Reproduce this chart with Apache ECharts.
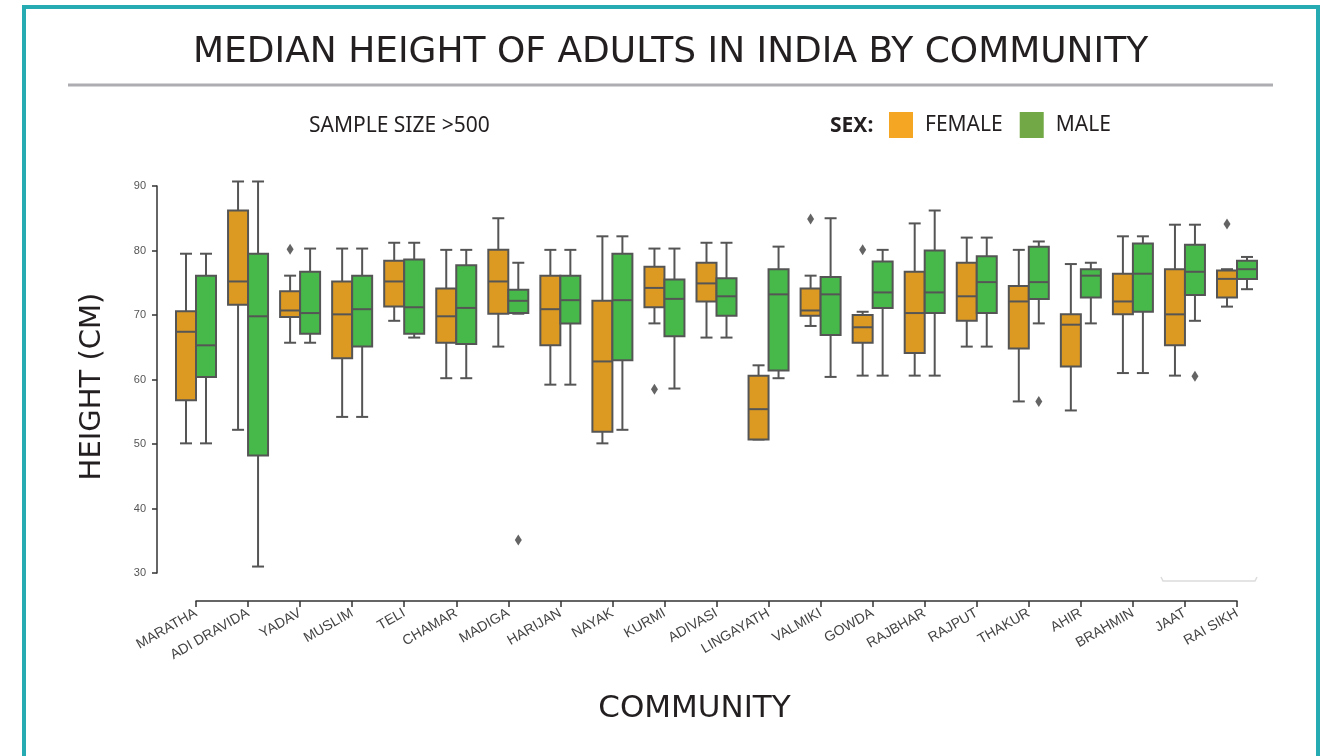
<!DOCTYPE html>
<html>
<head>
<meta charset="utf-8">
<title>Median height of adults in India by community</title>
<script src="https://cdn.jsdelivr.net/npm/echarts@6/dist/echarts.min.js"></script>
<style>
  html, body { margin: 0; padding: 0; background: #fff; }
  #chart { width: 1326px; height: 756px; }
</style>
</head>
<body>
<div id="chart"></div>
<script>
// communities, left to right
var categories = ['MARATHA', 'ADI DRAVIDA', 'YADAV', 'MUSLIM', 'TELI', 'CHAMAR', 'MADIGA',
  'HARIJAN', 'NAYAK', 'KURMI', 'ADIVASI', 'LINGAYATH', 'VALMIKI', 'GOWDA', 'RAJBHAR',
  'RAJPUT', 'THAKUR', 'AHIR', 'BRAHMIN', 'JAAT', 'RAI SIKH'];

// [lower whisker, Q1, median, Q3, upper whisker]
var femaleBoxes = [
  [50.1, 56.8, 67.4, 70.6, 79.5],
  [52.2, 71.6, 75.2, 86.2, 90.7],
  [65.7, 69.7, 70.7, 73.7, 76.1],
  [54.2, 63.3, 70.1, 75.2, 80.3],
  [69.1, 71.3, 75.2, 78.4, 81.2],
  [60.2, 65.7, 69.8, 74.1, 80.1],
  [65.1, 70.2, 75.2, 80.1, 85.0],
  [59.2, 65.3, 70.9, 76.1, 80.1],
  [50.1, 51.9, 62.8, 72.2, 82.2],
  [68.7, 71.2, 74.2, 77.5, 80.3],
  [66.5, 72.1, 74.9, 78.1, 81.2],
  [50.7, 50.7, 55.4, 60.6, 62.2],
  [68.3, 69.9, 70.7, 74.1, 76.1],
  [60.6, 65.7, 68.1, 70.0, 70.5],
  [60.6, 64.1, 70.3, 76.7, 84.2],
  [65.1, 69.1, 72.9, 78.1, 82.0],
  [56.6, 64.8, 72.1, 74.5, 80.1],
  [55.2, 62.0, 68.5, 70.1, 77.9],
  [61.0, 70.1, 72.1, 76.4, 82.2],
  [60.6, 65.3, 70.1, 77.1, 84.0],
  [71.3, 72.7, 75.6, 76.9, 77.1]
];

var maleBoxes = [
  [50.1, 60.4, 65.3, 76.1, 79.5],
  [31.0, 48.2, 69.8, 79.5, 90.7],
  [65.7, 67.1, 70.3, 76.7, 80.3],
  [54.2, 65.1, 70.9, 76.1, 80.3],
  [66.5, 67.1, 71.2, 78.6, 81.2],
  [60.2, 65.5, 71.1, 77.7, 80.1],
  [70.2, 70.3, 72.2, 73.9, 78.1],
  [59.2, 68.7, 72.3, 76.1, 80.1],
  [52.2, 63.0, 72.3, 79.5, 82.2],
  [58.6, 66.7, 72.5, 75.5, 80.3],
  [66.5, 69.9, 72.9, 75.7, 81.2],
  [60.2, 61.4, 73.2, 77.1, 80.6],
  [60.4, 66.9, 73.2, 75.9, 85.0],
  [60.6, 71.1, 73.5, 78.3, 80.1],
  [60.6, 70.3, 73.5, 80.0, 86.2],
  [65.1, 70.3, 75.1, 79.1, 82.0],
  [68.7, 72.5, 75.1, 80.6, 81.4],
  [68.7, 72.7, 76.1, 77.1, 78.1],
  [61.0, 70.5, 76.4, 81.1, 82.2],
  [69.1, 73.1, 76.7, 80.9, 84.0],
  [74.0, 75.6, 77.1, 78.4, 79.0]
];

// outliers: [category, height]
var femaleOutliers = [['YADAV', 80.2], ['KURMI', 58.5], ['VALMIKI', 84.9], ['GOWDA', 80.1], ['RAI SIKH', 84.1]];
var maleOutliers = [['MADIGA', 35.1], ['THAKUR', 56.6], ['JAAT', 60.5]];

var yTicks = [30, 40, 50, 60, 70, 80, 90];

var femaleFill = '#dd9a23';
var maleFill = '#47b94a';
var edge = '#555555';

// box drawn beside the category tick: dx < 0 female, dx > 0 male
function boxRenderer(dx, fill) {
  return function (params, api) {
    var c = api.value(0);
    var cx = api.coord([c, 0])[0] + dx;
    var yLo = api.coord([c, api.value(1)])[1];
    var yQ1 = api.coord([c, api.value(2)])[1];
    var yMed = api.coord([c, api.value(3)])[1];
    var yQ3 = api.coord([c, api.value(4)])[1];
    var yHi = api.coord([c, api.value(5)])[1];
    var half = 10, cap = 6;
    var ln = { stroke: edge, lineWidth: 2 };
    return {
      type: 'group',
      children: [
        { type: 'line', shape: { x1: cx, y1: yLo, x2: cx, y2: yQ1 }, style: ln },
        { type: 'line', shape: { x1: cx, y1: yQ3, x2: cx, y2: yHi }, style: ln },
        { type: 'line', shape: { x1: cx - cap, y1: yLo, x2: cx + cap, y2: yLo }, style: ln },
        { type: 'line', shape: { x1: cx - cap, y1: yHi, x2: cx + cap, y2: yHi }, style: ln },
        { type: 'rect', shape: { x: cx - half, y: yQ3, width: half * 2, height: yQ1 - yQ3 },
          style: { fill: fill, stroke: edge, lineWidth: 2 } },
        { type: 'line', shape: { x1: cx - half, y1: yMed, x2: cx + half, y2: yMed }, style: ln }
      ]
    };
  };
}

function withIndex(boxes) {
  return boxes.map(function (b, i) { return [i].concat(b); });
}

var chart = echarts.init(document.getElementById('chart'));

var option = {
  backgroundColor: '#ffffff',
  animation: false,
  title: {
    text: 'MEDIAN HEIGHT OF ADULTS IN INDIA BY COMMUNITY',
    left: 193,
    top: 35,
    padding: 0,
    textStyle: { fontFamily: 'DejaVu Sans', fontSize: 36, fontWeight: 'normal', color: '#231f20' }
  },
  legend: {
    left: 889,
    top: 112,
    padding: 0,
    icon: 'rect',
    itemWidth: 24,
    itemHeight: 26,
    itemGap: 17,
    textStyle: { fontFamily: 'Noto Sans', fontSize: 21, color: '#231f20', padding: [0, 0, 0, 7] },
    data: [
      { name: 'FEMALE', itemStyle: { color: '#f5a623', borderWidth: 0 } },
      { name: 'MALE', itemStyle: { color: '#72a845', borderWidth: 0 } }
    ]
  },
  grid: { left: 196, right: 89, top: 186, bottom: 183 },
  xAxis: {
    type: 'category',
    data: categories,
    boundaryGap: false,
    offset: 28,
    name: 'COMMUNITY',
    nameLocation: 'middle',
    nameGap: 92,
    nameTextStyle: { fontFamily: 'DejaVu Sans', fontSize: 31, color: '#231f20', padding: [0, 44, 0, 0], verticalAlign: 'top' },
    axisLine: { lineStyle: { color: '#333', width: 1.5 } },
    axisTick: { length: 6, lineStyle: { color: '#333', width: 1.5 } },
    axisLabel: { rotate: 30, margin: 11, fontFamily: 'Liberation Sans', fontSize: 14, color: '#444' },
    splitLine: { show: false }
  },
  yAxis: {
    type: 'value',
    min: yTicks[0],
    max: yTicks[yTicks.length - 1],
    interval: 10,
    offset: 39,
    name: 'HEIGHT (CM)',
    nameLocation: 'middle',
    nameGap: 50,
    nameRotate: 90,
    nameTextStyle: { fontFamily: 'DejaVu Sans', fontSize: 29, color: '#231f20', padding: [0, 14, 0, 0] },
    axisLine: { show: true, lineStyle: { color: '#333', width: 1.5 } },
    axisTick: { show: true, length: 5, lineStyle: { color: '#333', width: 1.5 } },
    axisLabel: { margin: 11, fontFamily: 'Liberation Sans', fontSize: 11, color: '#555' },
    splitLine: { show: false }
  },
  graphic: [
    { type: 'rect', shape: { x: 24, y: 7, width: 1294, height: 800 }, style: { fill: 'none', stroke: '#26abb3', lineWidth: 4 }, silent: true },
    { type: 'line', shape: { x1: 68, y1: 85, x2: 1273, y2: 85 }, style: { stroke: '#adadb2', lineWidth: 3 }, silent: true },
    { type: 'text', x: 309, y: 126, style: { text: 'SAMPLE SIZE >500', font: '21px "Noto Sans"', fill: '#231f20', verticalAlign: 'middle' } },
    { type: 'text', x: 830, y: 126, style: { text: 'SEX:', font: 'bold 21px "Noto Sans"', fill: '#231f20', verticalAlign: 'middle' } },
    { type: 'polyline', shape: { points: [[1161, 577], [1163, 581], [1255, 581], [1257, 577]] }, style: { stroke: '#dcdcdc', lineWidth: 1.5, fill: 'none' }, silent: true }
  ],
  series: [
    {
      name: 'FEMALE',
      type: 'custom',
      renderItem: boxRenderer(-10, femaleFill),
      itemStyle: { color: femaleFill },
      encode: { x: 0, y: [1, 2, 3, 4, 5] },
      data: withIndex(femaleBoxes)
    },
    {
      name: 'MALE',
      type: 'custom',
      renderItem: boxRenderer(10, maleFill),
      itemStyle: { color: maleFill },
      encode: { x: 0, y: [1, 2, 3, 4, 5] },
      data: withIndex(maleBoxes)
    },
    {
      name: 'FEMALE',
      type: 'scatter',
      symbol: 'diamond',
      symbolSize: [7, 11],
      symbolOffset: [-10, 0],
      itemStyle: { color: '#3d3d3d' },
      data: femaleOutliers
    },
    {
      name: 'MALE',
      type: 'scatter',
      symbol: 'diamond',
      symbolSize: [7, 11],
      symbolOffset: [10, 0],
      itemStyle: { color: '#3d3d3d' },
      data: maleOutliers
    }
  ]
};

chart.setOption(option);
</script>
</body>
</html>
